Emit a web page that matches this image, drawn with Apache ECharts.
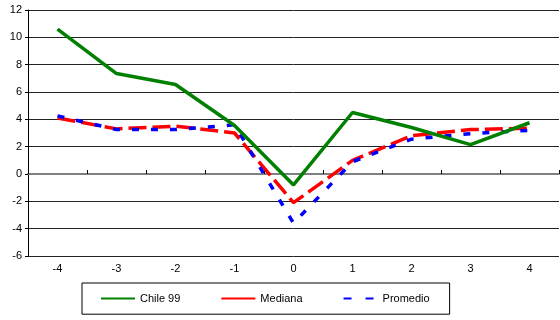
<!DOCTYPE html>
<html><head><meta charset="utf-8">
<script src="https://cdn.jsdelivr.net/npm/echarts@6/dist/echarts.min.js"></script>
<style>html,body{margin:0;padding:0;background:#fff}#c{width:560px;height:320px}</style>
</head><body><div id="c"></div>
<script>
const categories = ['-4','-3','-2','-1','0','1','2','3','4'];
const chile99 = [10.6, 7.35, 6.55, 3.55, -0.8, 4.5, 3.4, 2.15, 3.75];
const mediana = [4.1, 3.3, 3.5, 3.0, -2.1, 1.0, 2.8, 3.25, 3.35];
const promedio = [4.25, 3.25, 3.25, 3.6, -3.6, 0.9, 2.55, 2.95, 3.2];
const yTicks = {min: -6, max: 12, step: 2};

const font = 'Liberation Sans, Arial, sans-serif';
const chart = echarts.init(document.getElementById('c'), null, {renderer: 'canvas'});
chart.setOption({
  animation: false,
  backgroundColor: '#fff',
  grid: {left: 28, right: 1, top: 10, bottom: 64, containLabel: false},
  xAxis: [{
    type: 'category', data: categories, position: 'bottom', boundaryGap: true,
    axisLine: {show: false, onZero: false}, axisTick: {show: false},
    axisLabel: {color: '#000', fontFamily: font, fontSize: 11, margin: 7}
  }, {
    type: 'category', data: categories, boundaryGap: true,
    axisLine: {show: true, onZero: true, lineStyle: {color: '#808080', width: 2}},
    axisTick: {show: true, length: 4, inside: false, lineStyle: {color: '#000', width: 1}},
    axisLabel: {show: false}
  }],
  yAxis: {
    type: 'value', min: yTicks.min, max: yTicks.max, interval: yTicks.step,
    axisLine: {show: true, lineStyle: {color: '#000', width: 1}},
    axisTick: {show: true, length: 3, lineStyle: {color: '#000'}},
    axisLabel: {color: '#000', fontFamily: font, fontSize: 11, margin: 6},
    splitLine: {show: true, lineStyle: {color: '#222', width: 1}}
  },
  legend: {
    left: 82, top: 283, orient: 'horizontal',
    padding: [10, 20, 10, 18], itemGap: 40, itemWidth: 34, itemHeight: 14,
    borderColor: '#000', borderWidth: 1,
    itemStyle: {color: 'rgba(0,0,0,0)', borderWidth: 0, opacity: 0},
    textStyle: {color: '#000', fontFamily: font, fontSize: 11},
    data: [
      {name: 'Chile 99'},
      {name: 'Mediana', lineStyle: {type: 'solid'}},
      {name: 'Promedio', lineStyle: {type: [8, 14]}}
    ]
  },
  series: [{
    name: 'Chile 99', type: 'line', data: chile99, xAxisIndex: 0, z: 5,
    symbol: 'none', lineStyle: {color: '#008000', width: 3.5}, itemStyle: {color: '#008000'}
  }, {
    name: 'Mediana', type: 'line', data: mediana, xAxisIndex: 0, z: 3,
    symbol: 'none', lineStyle: {color: '#ff0000', width: 3.5, type: [18, 6]}, itemStyle: {color: '#ff0000'}
  }, {
    name: 'Promedio', type: 'line', data: promedio, xAxisIndex: 0, z: 4,
    symbol: 'none', lineStyle: {color: '#0000ff', width: 3.5, type: [7, 12]}, itemStyle: {color: '#0000ff'}
  }]
});
</script></body></html>
